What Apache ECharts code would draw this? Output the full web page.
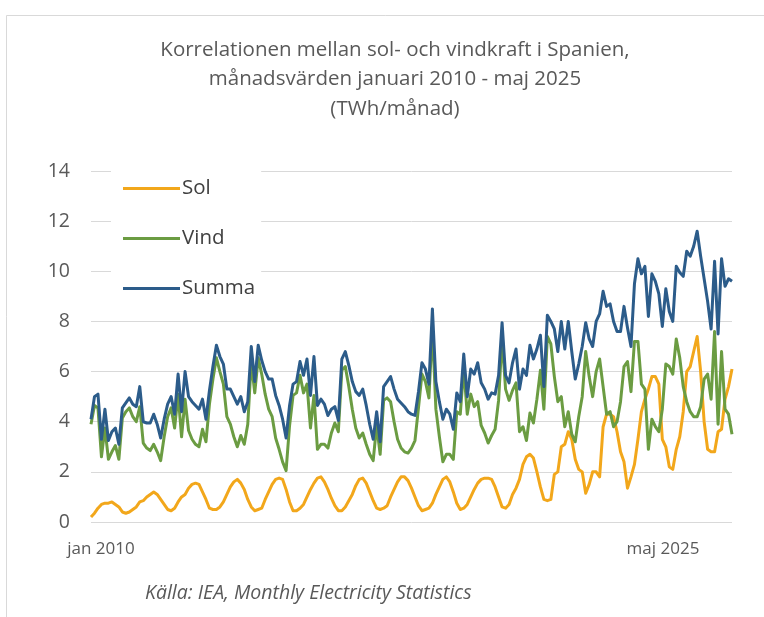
<!DOCTYPE html>
<html>
<head>
<meta charset="utf-8">
<script src="https://cdn.jsdelivr.net/npm/echarts@6/dist/echarts.min.js"></script>
<style>
  html, body { margin: 0; padding: 0; background: #fff; }
  #chart { width: 764px; height: 617px; }
</style>
</head>
<body>
<div id="chart"></div>
<script>
// månadsvärden jan 2010 - maj 2025, TWh/månad
const monthNames = ['jan', 'feb', 'mar', 'apr', 'maj', 'jun', 'jul', 'aug', 'sep', 'okt', 'nov', 'dec'];
const startYear = 2010;
const tickLabels = ['jan 2010', 'maj 2025'];
const seriesNames = ['Sol', 'Vind', 'Summa'];

const sol = [
  0.2, 0.35, 0.55, 0.7, 0.75, 0.75, 0.8, 0.7, 0.6, 0.4, 0.35, 0.4,      // 2010
  0.5, 0.6, 0.8, 0.85, 1.0, 1.1, 1.2, 1.1, 0.9, 0.7, 0.5, 0.45,         // 2011
  0.55, 0.8, 1.0, 1.1, 1.35, 1.5, 1.55, 1.5, 1.2, 0.9, 0.55, 0.5,       // 2012
  0.5, 0.6, 0.8, 1.1, 1.4, 1.6, 1.7, 1.55, 1.3, 0.9, 0.6, 0.45,         // 2013
  0.5, 0.55, 0.9, 1.2, 1.5, 1.7, 1.75, 1.7, 1.3, 0.8, 0.45, 0.45,       // 2014
  0.55, 0.7, 1.0, 1.3, 1.55, 1.75, 1.8, 1.6, 1.3, 0.95, 0.65, 0.45,     // 2015
  0.45, 0.6, 0.85, 1.1, 1.45, 1.7, 1.75, 1.55, 1.2, 0.85, 0.55, 0.5,    // 2016
  0.55, 0.65, 1.0, 1.3, 1.6, 1.8, 1.8, 1.65, 1.35, 1.0, 0.65, 0.45,     // 2017
  0.5, 0.55, 0.75, 1.1, 1.4, 1.7, 1.8, 1.6, 1.2, 0.75, 0.5, 0.55,       // 2018
  0.7, 1.0, 1.3, 1.55, 1.7, 1.75, 1.75, 1.7, 1.4, 1.0, 0.6, 0.55,       // 2019
  0.7, 1.1, 1.35, 1.7, 2.3, 2.6, 2.7, 2.55, 2.0, 1.4, 0.9, 0.85,        // 2020
  0.9, 1.9, 2.0, 3.0, 3.1, 3.6, 3.3, 2.5, 2.1, 2.0, 1.15, 1.5,          // 2021
  2.0, 2.0, 1.8, 3.8, 4.3, 4.3, 4.2, 3.6, 2.8, 2.4, 1.35, 1.8,          // 2022
  2.3, 3.3, 4.4, 4.9, 5.3, 5.8, 5.8, 5.5, 3.3, 3.0, 2.2, 2.1,           // 2023
  2.9, 3.4, 4.4, 6.0, 6.2, 6.8, 7.4, 6.0, 4.0, 2.9, 2.8, 2.8,           // 2024
  3.6, 3.7, 4.9, 5.4, 6.1                                               // 2025
];

const vind = [
  3.9, 4.65, 4.55, 2.6, 3.75, 2.5, 2.8, 3.05, 2.5, 4.15, 4.4, 4.55,     // 2010
  4.2, 4.0, 4.6, 3.15, 2.95, 2.85, 3.1, 2.8, 2.45, 3.4, 4.2, 4.55,      // 2011
  3.75, 5.1, 3.4, 4.9, 3.65, 3.3, 3.1, 3.0, 3.7, 3.2, 4.7, 5.7,         // 2012
  6.55, 6.0, 5.5, 4.2, 3.9, 3.4, 3.0, 3.45, 3.1, 3.9, 6.4, 5.15,        // 2013
  6.55, 5.9, 5.1, 4.5, 4.2, 3.35, 2.9, 2.4, 2.05, 3.85, 5.05, 5.15,     // 2014
  5.85, 5.15, 5.5, 3.75, 5.05, 2.9, 3.1, 3.1, 2.95, 3.55, 3.95, 3.6,    // 2015
  6.05, 6.2, 5.4, 4.5, 3.75, 3.35, 3.55, 3.1, 2.7, 2.45, 3.85, 2.7,     // 2016
  4.85, 4.95, 4.8, 4.0, 3.3, 2.95, 2.8, 2.75, 2.95, 3.25, 4.55, 5.9,    // 2017
  5.6, 4.95, 7.75, 4.5, 3.4, 2.4, 2.7, 2.7, 2.5, 4.4, 4.3, 6.15,        // 2018
  4.3, 5.1, 4.6, 4.8, 3.85, 3.55, 3.15, 3.45, 3.7, 4.85, 7.35, 5.3,     // 2019
  4.85, 5.25, 5.55, 3.6, 3.8, 3.25, 4.35, 3.95, 4.9, 6.05, 4.5, 7.4,    // 2020
  7.1, 5.8, 4.8, 5.0, 3.8, 4.4, 3.5, 3.2, 4.2, 5.0, 6.8, 5.8,           // 2021
  5.0, 6.0, 6.5, 5.4, 4.3, 4.4, 3.8, 4.0, 4.8, 6.2, 6.4, 5.2,           // 2022
  7.2, 7.2, 5.5, 5.3, 2.9, 4.1, 3.8, 3.6, 4.5, 6.3, 6.2, 5.9,           // 2023
  7.3, 6.55, 5.4, 4.8, 4.4, 4.2, 4.2, 4.6, 5.7, 5.9, 4.9, 7.6,          // 2024
  3.9, 6.8, 4.5, 4.3, 3.5                                               // 2025
];

const summa = [
  4.1, 5.0, 5.1, 3.3, 4.5, 3.25, 3.6, 3.75, 3.1, 4.55, 4.75, 4.95,      // 2010
  4.7, 4.6, 5.4, 4.0, 3.95, 3.95, 4.3, 3.9, 3.35, 4.1, 4.7, 5.0,        // 2011
  4.3, 5.9, 4.4, 6.0, 5.0, 4.8, 4.65, 4.5, 4.9, 4.1, 5.25, 6.2,         // 2012
  7.05, 6.6, 6.3, 5.3, 5.3, 5.0, 4.7, 5.0, 4.4, 4.8, 7.0, 5.6,          // 2013
  7.05, 6.45, 6.0, 5.7, 5.7, 5.05, 4.65, 4.1, 3.35, 4.65, 5.5, 5.6,     // 2014
  6.4, 5.85, 6.5, 5.05, 6.6, 4.65, 4.9, 4.7, 4.25, 4.5, 4.6, 4.05,      // 2015
  6.5, 6.8, 6.25, 5.6, 5.2, 5.05, 5.3, 4.65, 3.9, 3.3, 4.4, 3.2,        // 2016
  5.4, 5.6, 5.8, 5.3, 4.9, 4.75, 4.6, 4.4, 4.3, 4.25, 5.2, 6.35,        // 2017
  6.1, 5.5, 8.5, 5.6, 4.8, 4.1, 4.5, 4.3, 3.7, 5.15, 4.8, 6.7,          // 2018
  5.0, 6.1, 5.9, 6.35, 5.55, 5.3, 4.9, 5.15, 5.1, 5.85, 7.95, 5.85,     // 2019
  5.55, 6.35, 6.9, 5.3, 6.1, 5.85, 7.05, 6.5, 6.9, 7.45, 5.4, 8.25,     // 2020
  8.0, 7.7, 6.8, 8.0, 6.9, 8.0, 6.8, 5.7, 6.3, 7.0, 7.95, 7.3,          // 2021
  7.0, 8.0, 8.3, 9.2, 8.6, 8.7, 8.0, 7.6, 7.6, 8.6, 7.75, 7.0,          // 2022
  9.5, 10.5, 9.9, 10.2, 8.2, 9.9, 9.6, 9.1, 7.8, 9.3, 8.4, 8.0,         // 2023
  10.2, 9.95, 9.8, 10.8, 10.6, 11.0, 11.6, 10.6, 9.7, 8.8, 7.7, 10.4,   // 2024
  7.5, 10.5, 9.4, 9.7, 9.6                                              // 2025
];

const colors = ['#F2A71B', '#6B9C42', '#2C5C8A'];

// kategorier: en per månad
const categories = sol.map((v, i) =>
  monthNames[i % 12] + ' ' + (startYear + Math.floor(i / 12)));
const lastIdx = categories.length - 1;

const axisData = categories.map((c, i) => {
  if (i === 0) return { value: c, textStyle: { padding: [0, 0, 0, 20] } };
  if (i === lastIdx) return { value: c, textStyle: { padding: [0, 138, 0, 0] } };
  return c;
});

const myChart = echarts.init(document.getElementById('chart'));
const font = '"Open Sans", "Noto Sans", sans-serif';

myChart.setOption({
  animation: false,
  backgroundColor: '#fff',
  textStyle: { fontFamily: font },
  title: {
    text: 'Korrelationen mellan sol- och vindkraft i Spanien,\nmånadsvärden januari 2010 - maj 2025\n(TWh/månad)',
    left: 390,
    textAlign: 'center',
    top: 30,
    textStyle: {
      fontFamily: font,
      fontSize: 20.5,
      fontWeight: 'normal',
      lineHeight: 29.5,
      color: '#595959',
    },
  },
  legend: {
    orient: 'vertical',
    left: 111,
    top: 170,
    padding: [8, 6, 6, 12],
    backgroundColor: '#fff',
    itemGap: 29,
    itemWidth: 57,
    itemHeight: 3,
    icon: 'rect',
    data: seriesNames,
    textStyle: {
      fontFamily: font,
      fontSize: 20.5,
      lineHeight: 20,
      color: '#404040',
      padding: [0, 0, 0, -3],
    },
  },
  grid: {
    left: 91,
    right: 32,
    top: 171,
    bottom: 95,
  },
  xAxis: {
    type: 'category',
    boundaryGap: false,
    data: axisData,
    axisLine: { show: false },
    axisTick: { show: false },
    axisLabel: {
      interval: (i) => i === 0 || i === lastIdx,
      formatter: (v, i) => (i === 0 ? tickLabels[0] : tickLabels[1]),
      margin: 19,
      fontSize: 17,
      color: '#595959',
      fontFamily: font,
    },
    splitLine: { show: false },
  },
  yAxis: {
    type: 'value',
    min: 0,
    max: 14,
    interval: 2,
    axisLine: { show: false },
    axisTick: { show: false },
    axisLabel: {
      margin: 21,
      fontSize: 19.5,
      color: '#595959',
      fontFamily: font,
    },
    splitLine: {
      lineStyle: { color: '#D9D9D9', width: 1 },
    },
  },
  series: [
    { name: seriesNames[0], data: sol },
    { name: seriesNames[1], data: vind },
    { name: seriesNames[2], data: summa },
  ].map((s, k) => ({
    ...s,
    type: 'line',
    symbol: 'none',
    color: colors[k],
    lineStyle: { width: 3, color: colors[k], join: 'round' },
    z: 2 + k,
  })),
  graphic: [
    {
      type: 'rect',
      silent: true,
      shape: { x: 6.5, y: 15.5, width: 900, height: 800 },
      style: { fill: 'none', stroke: '#D9D9D9', lineWidth: 1 },
    },
    {
      type: 'text',
      left: 145,
      top: 583,
      style: {
        text: 'Källa: IEA, Monthly Electricity Statistics',
        font: 'italic 19.5px ' + font,
        fill: '#595959',
      },
    },
  ],
});
</script>
</body>
</html>
